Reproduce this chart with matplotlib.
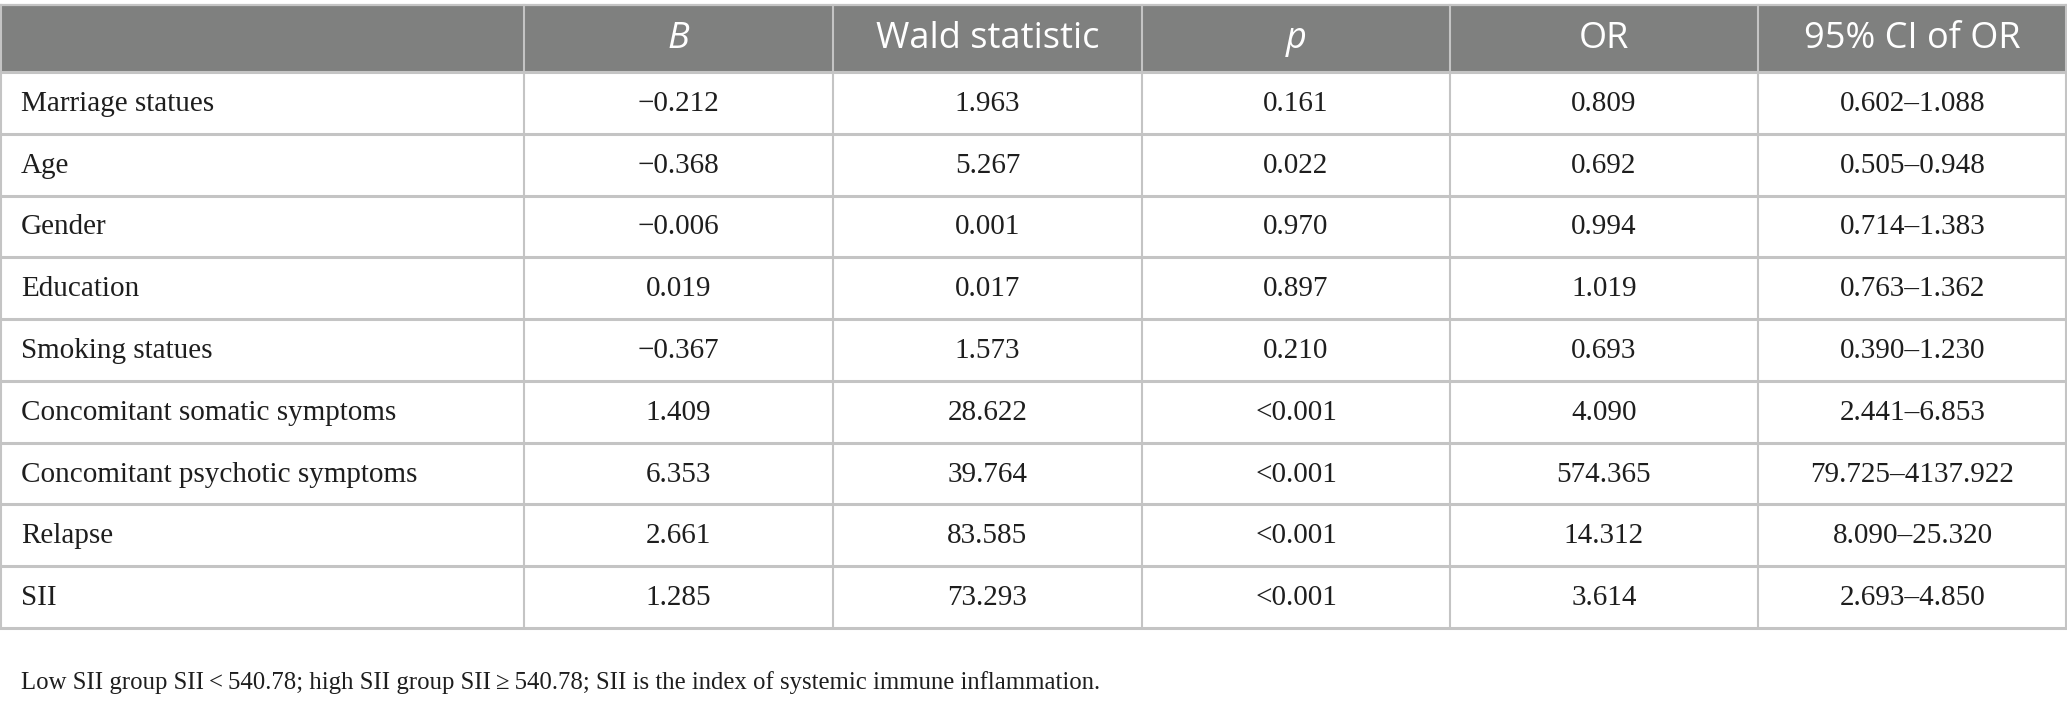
import numpy as np
import matplotlib.pyplot as plt

# table contents
variables = ["Marriage statues", "Age", "Gender", "Education", "Smoking statues",
             "Concomitant somatic symptoms", "Concomitant psychotic symptoms",
             "Relapse", "SII"]
B = [-0.212, -0.368, -0.006, 0.019, -0.367, 1.409, 6.353, 2.661, 1.285]
wald = [1.963, 5.267, 0.001, 0.017, 1.573, 28.622, 39.764, 83.585, 73.293]
p_vals = ["0.161", "0.022", "0.970", "0.897", "0.210", "<0.001", "<0.001", "<0.001", "<0.001"]
OR = [0.809, 0.692, 0.994, 1.019, 0.693, 4.090, 574.365, 14.312, 3.614]
ci_low = [0.602, 0.505, 0.714, 0.763, 0.390, 2.441, 79.725, 8.090, 2.693]
ci_high = [1.088, 0.948, 1.383, 1.362, 1.230, 6.853, 4137.922, 25.320, 4.850]
headers = ["", "B", "Wald statistic", "p", "OR", "95% CI of OR"]
footnote = ("Low SII group SII\u2009<\u2009540.78; high SII group SII\u2009\u2265\u2009540.78; "
            "SII is the index of systemic immune inflammation.")


def fmt(v):
    return f"{v:.3f}".replace("-", "\u2212")


rows = []
for i in range(len(variables)):
    rows.append([variables[i], fmt(B[i]), fmt(wald[i]), p_vals[i], fmt(OR[i]),
                 f"{ci_low[i]:.3f}\u2013{ci_high[i]:.3f}"])

W, H = 2067, 707
fig = plt.figure(figsize=(W / 100, H / 100), dpi=100)
ax = fig.add_axes([0, 0, 1, 1])
ax.set_xlim(0, W)
ax.set_ylim(H, 0)
ax.axis("off")

col_edges = [0, 524, 833, 1142, 1450, 1758, 2067]
head_top, head_bot = 4.5, 72
bottom = 628
n = len(rows)
row_h = (bottom - head_bot) / n
line_col = "#c4c4c4"
serif = ["Liberation Serif", "DejaVu Serif"]
sans = ["Open Sans", "DejaVu Sans"]
txt_col = "#1e1e1e"

# header band
ax.add_patch(plt.Rectangle((0, head_top), W, head_bot - head_top,
                           facecolor="#7f807f", edgecolor="none"))
for j, h in enumerate(headers):
    if not h:
        continue
    xc = (col_edges[j] + col_edges[j + 1]) / 2
    style = "italic" if h in ("B", "p") else "normal"
    ax.text(xc, (head_top + head_bot) / 2 + 1, h, ha="center", va="center",
            color="white", fontsize=26, family=sans, style=style)

# body
for i, r in enumerate(rows):
    yc = head_bot + (i + 0.5) * row_h + 1
    for j, cell in enumerate(r):
        if j == 0:
            ax.text(21, yc, cell, ha="left", va="center", fontsize=21,
                    family=serif, color=txt_col)
        else:
            xc = (col_edges[j] + col_edges[j + 1]) / 2
            ax.text(xc, yc, cell, ha="center", va="center", fontsize=21,
                    family=serif, color=txt_col)

# grid lines
ax.plot([0, W], [head_top, head_top], color=line_col, lw=1.6)
for i in range(n + 1):
    y = head_bot + i * row_h
    ax.plot([0, W], [y, y], color=line_col, lw=2.2)
for x in col_edges:
    xx = min(max(x, 1), W - 1)
    ax.plot([xx, xx], [head_top, bottom], color=line_col, lw=1.5)

ax.text(21, 683, footnote, ha="left", va="center", fontsize=17.8,
        family=serif, color=txt_col)

fig.savefig("out.png", dpi=100, facecolor="white")
